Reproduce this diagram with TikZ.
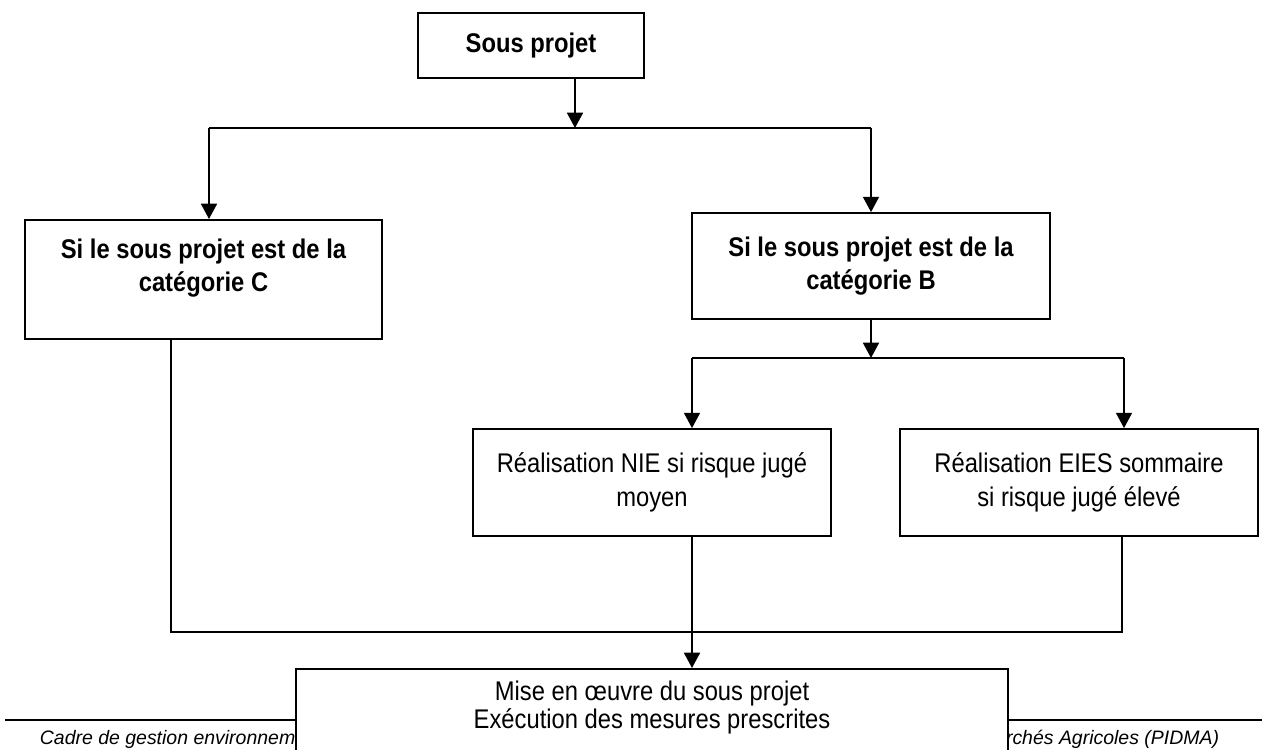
\documentclass[tikz,border=0pt]{standalone}
\usepackage{fontspec}
\setmainfont{Liberation Sans}
\newfontfamily\condfont{Liberation Sans}[FakeStretch=0.88]
\usetikzlibrary{arrows.meta}

\begin{document}
\begin{tikzpicture}[x=0.75pt,y=0.75pt,yscale=-1,xscale=1,
  line width=1.35pt,
  arr/.style={-{Triangle[width=12pt,length=11.5pt]}},
  box/.style={draw,rectangle,inner sep=0pt,align=center},
  boldtxt/.style={font=\condfont\fontsize{20.25}{24.75}\selectfont\bfseries},
  plaintxt/.style={font=\condfont\fontsize{20.25}{26}\selectfont},
  foot/.style={font=\fontsize{14.6}{17}\selectfont\itshape,inner sep=0pt}]

\useasboundingbox (0,0) rectangle (1262,749);

\node[box,boldtxt,minimum width=169.5pt,minimum height=48.75pt] (sp) at (531,45.5) {Sous projet};

\node[box,boldtxt,anchor=north] (catC) at (203.5,219) {\parbox[c][89.25pt][t]{267.75pt}{\centering\rule{0pt}{29.25pt}Si le sous projet est de la\\catégorie C}};

\node[box,boldtxt,minimum width=268.5pt,minimum height=79.5pt] (catB) at (871,266) {Si le sous projet est de la\\catégorie B};

\node[box,plaintxt,minimum width=268.5pt,minimum height=80.25pt] (nie) at (652,482.5) {Réalisation NIE si risque jugé\\moyen};

\node[box,plaintxt,minimum width=268.5pt,minimum height=80.25pt] (eies) at (1079,482.5) {Réalisation EIES sommaire\\si risque jugé élevé};

% footer of the page
\draw (5,720) -- (1262,720) ;

\node[foot,anchor=base west] (footL) at (39,744) {Cadre de gestion environnem};

\node[foot,anchor=base east] (footR) at (1220,744) {rchés Agricoles (PIDMA)};

\node[box,fill=white,anchor=north,font=\condfont\fontsize{20.25}{21}\selectfont] (mise) at (652,668) {\parbox[c][91.5pt][t]{534pt}{\centering\rule{0pt}{24pt}Mise en œuvre du sous projet\\Exécution des mesures prescrites}};

% connectors
\coordinate (spSplit) at (575,128);
\coordinate (topL) at (209,128);
\coordinate (topR) at (871,128);

\draw[arr] (sp.south -| spSplit) -- (spSplit);

\draw (topL) -- (topR);

\draw[arr] (topL) -- (topL |- catC.north);

\draw[arr] (topR) -- (catB.north);

\coordinate (bSplit) at (871,358);
\coordinate (bL) at (692,358);
\coordinate (bR) at (1124,358);

\draw[arr] (catB.south) -- (bSplit);

\draw (bL) -- (bR);

\draw[arr] (bL) -- (bL |- nie.north);

\draw[arr] (bR) -- (bR |- eies.north);

\coordinate (joinL) at (171,632);
\coordinate (joinR) at (1122,632);

\draw (catC.south -| joinL) -- (joinL) -- (joinR) -- (eies.south -| joinR);

\draw[arr] (nie.south -| bL) -- (mise.north -| bL);

\end{tikzpicture}
\end{document}
